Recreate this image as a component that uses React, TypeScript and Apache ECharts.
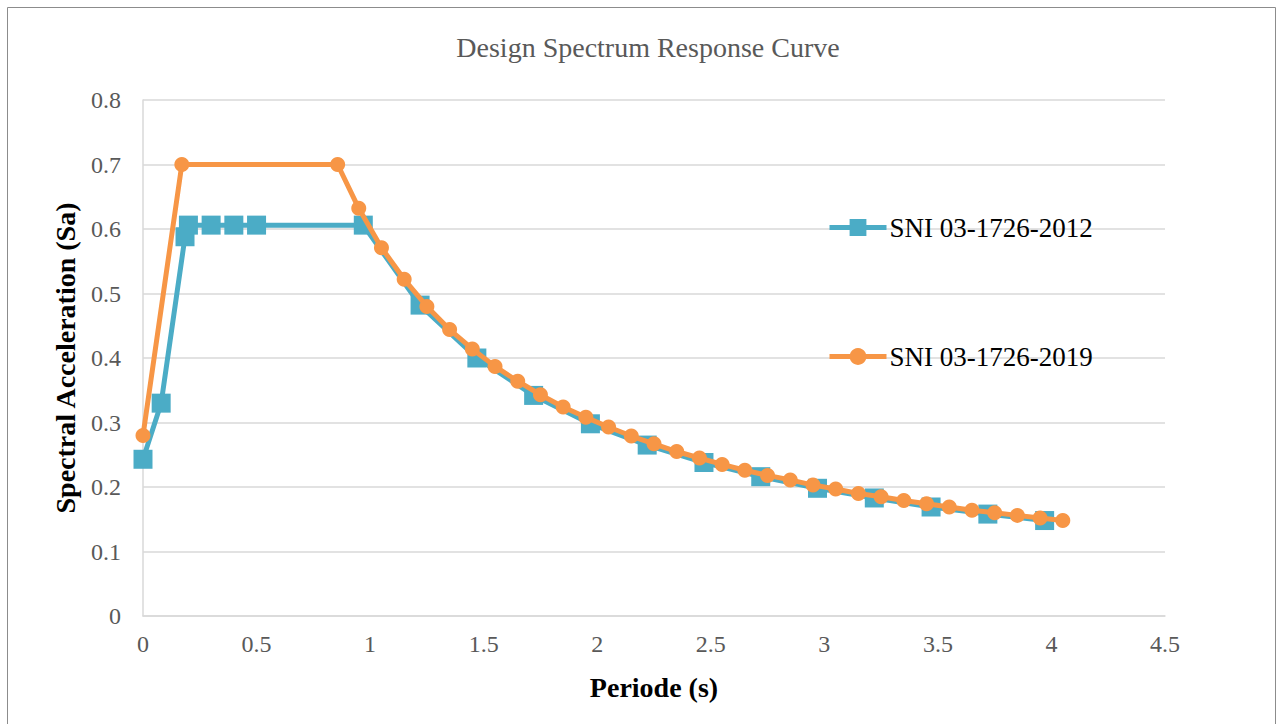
import React, { useEffect, useRef } from "react";
import * as echarts from "echarts";

const titleText = "Design Spectrum Response Curve";
const xAxisName = "Periode (s)";
const yAxisName = "Spectral Acceleration (Sa)";

const seriesNames = ["SNI 03-1726-2012", "SNI 03-1726-2019"];

const periods2012 = [0, 0.08, 0.185, 0.2, 0.3, 0.4, 0.5, 0.97, 1.22, 1.47, 1.72, 1.97, 2.22, 2.47, 2.72, 2.97, 3.22, 3.47, 3.72, 3.97];
const sa2012 = [0.243, 0.33, 0.588, 0.606, 0.606, 0.606, 0.606, 0.606, 0.482, 0.4, 0.342, 0.298, 0.265, 0.238, 0.216, 0.198, 0.183, 0.169, 0.158, 0.148];

const periods2019 = [0, 0.171, 0.857, 0.95, 1.05, 1.15, 1.25, 1.35, 1.45, 1.55, 1.65, 1.75, 1.85, 1.95, 2.05, 2.15, 2.25, 2.35, 2.45, 2.55, 2.65, 2.75, 2.85, 2.95, 3.05, 3.15, 3.25, 3.35, 3.45, 3.55, 3.65, 3.75, 3.85, 3.95, 4.05];
const sa2019 = [0.28, 0.7, 0.7, 0.632, 0.571, 0.522, 0.48, 0.444, 0.414, 0.387, 0.364, 0.343, 0.324, 0.308, 0.293, 0.279, 0.267, 0.255, 0.245, 0.235, 0.226, 0.218, 0.211, 0.203, 0.197, 0.19, 0.185, 0.179, 0.174, 0.169, 0.164, 0.16, 0.156, 0.152, 0.148];

const FONT = "Liberation Serif";

export default function App() {
  const ref = useRef<HTMLDivElement>(null);
  useEffect(() => {
    document.body.style.margin = "0";
    const chart = echarts.init(ref.current!, null, { renderer: "svg" });
    const pair = (xs: number[], ys: number[]) => xs.map((x, i) => [x, ys[i]]);
    chart.setOption({
      animation: false,
      backgroundColor: "#ffffff",
      textStyle: { fontFamily: FONT },
      graphic: [
        {
          type: "rect",
          shape: { x: 7.5, y: 7.5, width: 1268, height: 740 },
          style: { fill: "none", stroke: "#8c8c8c", lineWidth: 1 },
          silent: true,
          z: -1,
        },
      ],
      title: {
        text: titleText,
        left: 643,
        top: 28,
        textAlign: "center",
        textStyle: { fontFamily: FONT, fontSize: 28, fontWeight: "normal", color: "#595959" },
      },
      legend: {
        orient: "vertical",
        left: 827,
        top: 214,
        padding: 0,
        itemGap: 102,
        itemWidth: 57,
        itemHeight: 21,
        lineStyle: { width: 5 },
        data: seriesNames,
        textStyle: { fontFamily: FONT, fontSize: 27, color: "#000000", padding: [0, 0, 0, -2] },
      },
      grid: { left: 143, top: 100, width: 1022, height: 516, containLabel: false },
      xAxis: {
        type: "value",
        min: 0,
        max: 4.5,
        interval: 0.5,
        name: xAxisName,
        nameLocation: "middle",
        nameGap: 57,
        nameTextStyle: { fontFamily: FONT, fontSize: 28, fontWeight: "bold", color: "#000000" },
        axisLine: { show: true, lineStyle: { color: "#d9d9d9", width: 1.5 } },
        axisTick: { show: false },
        axisLabel: { fontFamily: FONT, fontSize: 24, color: "#595959", margin: 16 },
        splitLine: { show: false },
      },
      yAxis: {
        type: "value",
        min: 0,
        max: 0.8,
        interval: 0.1,
        name: yAxisName,
        nameLocation: "middle",
        nameGap: 64,
        nameTextStyle: { fontFamily: FONT, fontSize: 28, fontWeight: "bold", color: "#000000" },
        axisLine: { show: true, lineStyle: { color: "#d9d9d9", width: 1.5 } },
        axisTick: { show: false },
        axisLabel: { fontFamily: FONT, fontSize: 24, color: "#595959", margin: 22 },
        splitLine: { show: true, lineStyle: { color: "#d9d9d9", width: 1.5 } },
      },
      series: [
        {
          name: seriesNames[0],
          type: "line",
          data: pair(periods2012, sa2012),
          symbol: "rect",
          symbolSize: 19,
          lineStyle: { color: "#4BACC6", width: 5 },
          itemStyle: { color: "#4BACC6" },
          z: 2,
        },
        {
          name: seriesNames[1],
          type: "line",
          data: pair(periods2019, sa2019),
          symbol: "circle",
          symbolSize: 15,
          lineStyle: { color: "#F79646", width: 5 },
          itemStyle: { color: "#F79646" },
          z: 3,
        },
      ],
    });
    return () => chart.dispose();
  }, []);
  return <div ref={ref} style={{ width: 1277, height: 724 }} />;
}
